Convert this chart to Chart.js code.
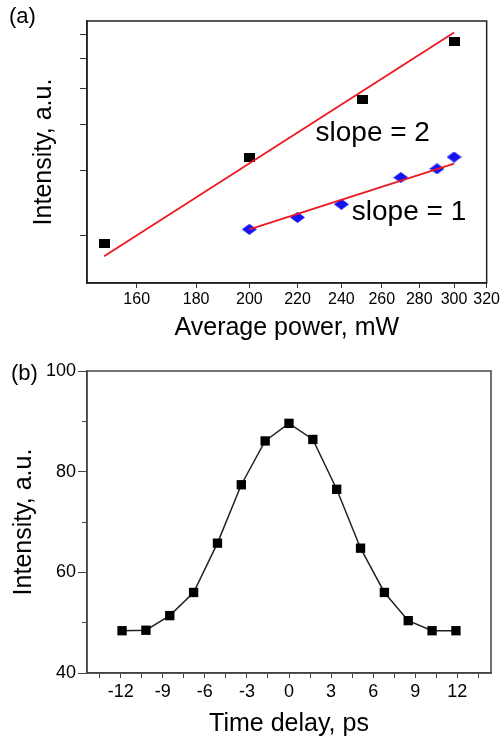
<!DOCTYPE html>
<html>
<head>
<meta charset="utf-8">
<script src="https://cdn.jsdelivr.net/npm/chart.js@4/dist/chart.umd.min.js"></script>
<style>
  body { margin: 0; background: #fff; }
  #wrap { position: relative; width: 502px; height: 741px; }
  canvas { position: absolute; left: 0; }
  .panel { position: absolute; font: 22px "Liberation Sans", Arial, sans-serif; line-height: 22px; color: #000; }
</style>
</head>
<body>
<div id="wrap">
  <canvas id="chartA" width="502" height="345" style="top:0"></canvas>
  <canvas id="chartB" width="502" height="396" style="top:345px"></canvas>
  <div class="panel" style="left:9px;top:5px">(a)</div>
  <div class="panel" style="left:11px;top:362px">(b)</div>
</div>
<script>
// (a) intensity vs average power, log-log axes
var powerSq = [150, 200, 250, 300];
var intensitySq = [1.90, 3.25, 4.66, 6.69];
var powerDia = [200, 220, 240, 270, 290, 300];
var intensityDia = [2.08, 2.24, 2.43, 2.87, 3.03, 3.26];
var fit2Power = [150, 300];
var fit2Intensity = [1.76, 7.07];
var fit1Power = [200, 300];
var fit1Intensity = [2.08, 3.13];
var powerTicks = [160, 180, 200, 220, 240, 260, 280, 300, 320];
var intensityTicksA = [2, 3, 4, 5, 6, 7];
var slopeText = ['slope = 2', 'slope = 1'];
var slopeAtPower = [228, 245];
var slopeAtIntensity = [3.61, 2.21];

// (b) intensity vs time delay
var delay = [-11.9, -10.2, -8.5, -6.8, -5.1, -3.4, -1.7, 0, 1.7, 3.4, 5.1, 6.8, 8.5, 10.2, 11.9];
var intensityB = [48.4, 48.5, 51.4, 56.0, 65.8, 77.4, 86.1, 89.6, 86.4, 76.5, 64.8, 56.0, 50.4, 48.4, 48.4];
var delayLabels = [-12, -9, -6, -3, 0, 3, 6, 9, 12];
var intensityLabelsB = [40, 60, 80, 100];

Chart.defaults.font.family = '"Liberation Sans", Arial, sans-serif';
Chart.defaults.color = '#000';

function pts(xs, ys) {
  return xs.map(function (x, i) { return { x: x, y: ys[i] }; });
}

// little canvas markers, the picture's points are a bit wider than tall
function marker(w, h, color, diamond) {
  var c = document.createElement('canvas');
  c.width = w; c.height = h;
  var g = c.getContext('2d');
  g.fillStyle = color;
  if (diamond) {
    g.beginPath();
    g.moveTo(w / 2, 0); g.lineTo(w, h / 2); g.lineTo(w / 2, h); g.lineTo(0, h / 2);
    g.closePath(); g.fill();
  } else {
    g.fillRect(0, 0, w, h);
  }
  return c;
}

var boxPlugin = {
  id: 'box',
  afterDraw: function (chart, args, opts) {
    var a = chart.chartArea, ctx = chart.ctx;
    ctx.save();
    ctx.strokeStyle = opts.color;
    ctx.lineWidth = opts.width;
    ctx.strokeRect(a.left, a.top, a.right - a.left, a.bottom - a.top);
    ctx.restore();
  }
};

var slopePlugin = {
  id: 'slopes',
  afterDatasetsDraw: function (chart) {
    var ctx = chart.ctx, xs = chart.scales.x, ys = chart.scales.y;
    ctx.save();
    ctx.font = '28px "Liberation Sans", Arial, sans-serif';
    ctx.fillStyle = '#000';
    ctx.textBaseline = 'alphabetic';
    slopeText.forEach(function (t, i) {
      ctx.fillText(t, xs.getPixelForValue(slopeAtPower[i]), ys.getPixelForValue(slopeAtIntensity[i]));
    });
    ctx.restore();
  }
};

var red = 'rgb(238,24,32)';
var blue = 'rgb(20,20,240)';

new Chart(document.getElementById('chartA'), {
  type: 'scatter',
  data: {
    datasets: [
      { data: pts(fit2Power, fit2Intensity), showLine: true, borderColor: red, borderWidth: 1.8, pointRadius: 0 },
      { data: pts(fit1Power, fit1Intensity), showLine: true, borderColor: red, borderWidth: 1.8, pointRadius: 0 },
      { data: pts(powerSq, intensitySq), pointStyle: marker(11, 9, '#000'), pointRadius: 6 },
      { data: pts(powerDia, intensityDia), pointStyle: marker(15, 11, blue, true), pointRadius: 7 }
    ]
  },
  options: {
    responsive: false,
    animation: false,
    devicePixelRatio: 1,
    layout: { padding: { top: 21, right: 15, left: 0, bottom: 0 } },
    plugins: {
      legend: { display: false },
      tooltip: { enabled: false },
      box: { color: '#222', width: 1.5 }
    },
    scales: {
      x: {
        type: 'logarithmic', min: 145, max: 320,
        afterBuildTicks: function (s) { s.ticks = powerTicks.map(function (v) { return { value: v }; }); },
        afterFit: function (s) { s.height = 62; },
        grid: { drawOnChartArea: false, tickLength: 5, tickColor: '#333' },
        border: { color: '#222', width: 1.5 },
        ticks: { callback: function (v) { return String(v); }, font: { size: 16 }, padding: 2, maxRotation: 0, autoSkip: false },
        title: { display: true, text: 'Average power, mW', font: { size: 25 }, padding: { top: 0, bottom: 2 } }
      },
      y: {
        type: 'logarithmic', min: 1.49, max: 7.59,
        afterBuildTicks: function (s) { s.ticks = intensityTicksA.map(function (v) { return { value: v }; }); },
        afterFit: function (s) { s.width = 87; },
        grid: { drawOnChartArea: false, tickLength: 7, tickColor: '#333' },
        border: { color: '#222', width: 1.5 },
        ticks: { callback: function () { return ''; }, padding: 0 },
        title: { display: true, text: 'Intensity, a.u.', font: { size: 25 }, padding: { top: 29, bottom: 0 } }
      }
    }
  },
  plugins: [boxPlugin, slopePlugin]
});

new Chart(document.getElementById('chartB'), {
  type: 'scatter',
  data: {
    datasets: [{
      data: pts(delay, intensityB), showLine: true, borderColor: '#222', borderWidth: 1.5,
      pointStyle: 'rect', pointRadius: 6.6, pointBackgroundColor: '#000', pointBorderColor: '#000', pointBorderWidth: 0
    }]
  },
  options: {
    responsive: false,
    animation: false,
    devicePixelRatio: 1,
    layout: { padding: { top: 26, right: 11, left: 0, bottom: 0 } },
    plugins: {
      legend: { display: false },
      tooltip: { enabled: false },
      box: { color: '#444', width: 1.5 }
    },
    scales: {
      x: {
        type: 'linear', min: -14.4, max: 14.4,
        afterFit: function (s) { s.height = 68; },
        grid: { drawOnChartArea: false, tickLength: 5, tickColor: '#444' },
        border: { color: '#444', width: 1.5 },
        ticks: {
          stepSize: 1.5, includeBounds: false, autoSkip: false, maxRotation: 0,
          callback: function (v) { return delayLabels.indexOf(v) >= 0 ? String(v) : ''; },
          font: { size: 18 }, padding: 3
        },
        title: { display: true, text: 'Time delay, ps', font: { size: 25 }, padding: { top: 0, bottom: 2 } }
      },
      y: {
        min: 40, max: 100,
        afterFit: function (s) { s.width = 87; },
        grid: {
          drawOnChartArea: false, tickLength: 9, tickColor: '#444',
          // minor ticks only show their inner half
          tickBorderDash: function (c) {
            return c.tick && intensityLabelsB.indexOf(c.tick.value) < 0 ? [0, 4, 5, 20] : [];
          }
        },
        border: { color: '#444', width: 1.5 },
        ticks: {
          stepSize: 10,
          callback: function (v) { return intensityLabelsB.indexOf(v) >= 0 ? String(v) : ''; },
          font: { size: 18 }, padding: 2
        },
        title: { display: true, text: 'Intensity, a.u.', font: { size: 25 }, padding: { top: 9, bottom: 0 } }
      }
    }
  },
  plugins: [boxPlugin]
});
</script>
</body>
</html>
